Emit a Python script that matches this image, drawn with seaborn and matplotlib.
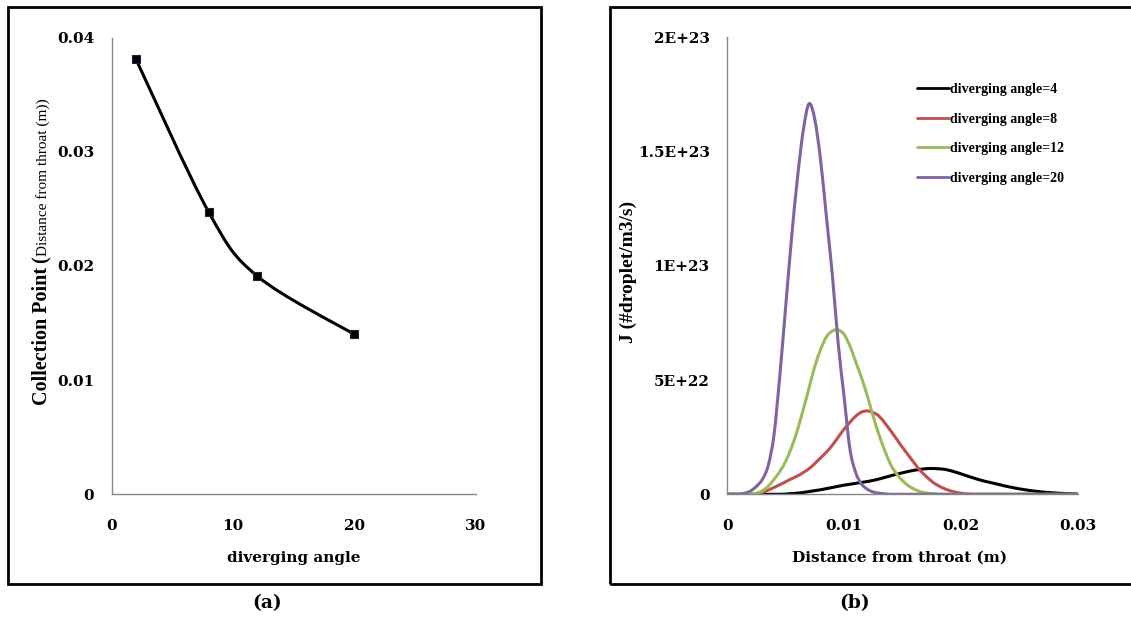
import numpy as np
import pandas as pd
import matplotlib
matplotlib.use("Agg")
import matplotlib.pyplot as plt
from matplotlib.path import Path
from matplotlib.patches import PathPatch, Rectangle
from matplotlib.lines import Line2D
import seaborn as sns

# ---------------- data ----------------
# panel (a)
angle = [2, 8, 12, 20]
collection_point = [0.0381, 0.0247, 0.0191, 0.0140]
a_xticks = [0, 10, 20, 30]
a_yticks = [0, 0.01, 0.02, 0.03, 0.04]
a_yticklabels = ["0", "0.01", "0.02", "0.03", "0.04"]

# panel (b): nucleation rate J in units of 1E22, sampled every 0.0005 m
distance = np.round(np.arange(0, 0.03001, 0.0005), 4)
J_angle4 = [0, 0, 0, 0, 0, 0, 0, 0, 0, 0,
            0.01, 0.03, 0.05, 0.08, 0.12, 0.16, 0.2, 0.25, 0.3, 0.35,
            0.4, 0.44, 0.48, 0.52, 0.56, 0.61, 0.67, 0.74, 0.81, 0.88,
            0.94, 1.0, 1.05, 1.09, 1.12, 1.13, 1.12, 1.1, 1.05, 0.98,
            0.9, 0.81, 0.73, 0.65, 0.58, 0.52, 0.46, 0.4, 0.34, 0.29,
            0.24, 0.2, 0.16, 0.13, 0.1, 0.08, 0.06, 0.045, 0.03, 0.02,
            0.01]
J_angle8 = [0, 0, 0, 0, 0, 0.02, 0.08, 0.18, 0.3, 0.42,
            0.55, 0.68, 0.8, 0.95, 1.12, 1.35, 1.6, 1.85, 2.15, 2.5,
            2.85, 3.15, 3.42, 3.6, 3.65, 3.58, 3.42, 3.12, 2.78, 2.42,
            2.06, 1.72, 1.38, 1.06, 0.8, 0.57, 0.4, 0.27, 0.17, 0.1,
            0.05, 0.02, 0, 0, 0, 0, 0, 0, 0, 0,
            0, 0, 0, 0, 0, 0, 0, 0, 0, 0,
            0]
J_angle12 = [0, 0, 0, 0, 0, 0.05, 0.15, 0.35, 0.65, 1.0,
             1.45, 2.05, 2.8, 3.7, 4.65, 5.6, 6.35, 6.9, 7.15, 7.2,
             7.0, 6.5, 5.8, 5.1, 4.3, 3.4, 2.6, 1.9, 1.3, 0.9,
             0.6, 0.38, 0.23, 0.12, 0.06, 0.03, 0.01, 0, 0, 0,
             0, 0, 0, 0, 0, 0, 0, 0, 0, 0,
             0, 0, 0, 0, 0, 0, 0, 0, 0, 0,
             0]
J_angle20 = [0, 0, 0, 0.05, 0.15, 0.35, 0.65, 1.25, 2.6, 5.2,
             8.2, 11.2, 13.8, 15.9, 17.1, 16.4, 14.6, 12.1, 9.6, 6.6,
             4.3, 2.0, 0.95, 0.45, 0.22, 0.1, 0.05, 0.02, 0, 0,
             0, 0, 0, 0, 0, 0, 0, 0, 0, 0,
             0, 0, 0, 0, 0, 0, 0, 0, 0, 0,
             0, 0, 0, 0, 0, 0, 0, 0, 0, 0,
             0]
series_labels = ["diverging angle=4", "diverging angle=8",
                 "diverging angle=12", "diverging angle=20"]
series_colors = ["#000000", "#C0504D", "#9BBB59", "#8064A2"]
b_xticks = [0, 0.01, 0.02, 0.03]
b_xticklabels = ["0", "0.01", "0.02", "0.03"]
b_yticks = [0, 5e22, 1e23, 1.5e23, 2e23]
b_yticklabels = ["0", "5E+22", "1E+23", "1.5E+23", "2E+23"]

# ---------------- style ----------------
sns.set_style("white")
plt.rcParams["font.family"] = ["DejaVu Serif"]
plt.rcParams["text.color"] = "black"
plt.rcParams["axes.labelcolor"] = "black"
W, H = 1131, 626
fig = plt.figure(figsize=(W / 100, H / 100), dpi=100)
fig.patch.set_facecolor("white")

AX_GRAY = "#868686"
tick_font = dict(family="DejaVu Serif", weight="bold", size=11, color="black")


def style_axes(ax):
    for s in ["top", "right"]:
        ax.spines[s].set_visible(False)
    for s in ["left", "bottom"]:
        ax.spines[s].set_color(AX_GRAY)
        ax.spines[s].set_linewidth(1.0)
    ax.tick_params(axis="both", direction="out", length=3.6, width=1.0,
                   color=AX_GRAY, labelcolor="black")
    ax.tick_params(axis="y", pad=9)
    ax.tick_params(axis="x", pad=14)
    ax.set_xlabel("")
    ax.set_ylabel("")


def smooth_path(xs, ys):
    """Excel-like smoothed line: cubic Bezier through every data point."""
    pts = np.column_stack([xs, ys]).astype(float)
    n = len(pts)
    verts = [tuple(pts[0])]
    codes = [Path.MOVETO]
    for i in range(n - 1):
        p0 = pts[max(i - 1, 0)]
        p1 = pts[i]
        p2 = pts[i + 1]
        p3 = pts[min(i + 2, n - 1)]
        c1 = p1 + (p2 - p0) / 6.0
        c2 = p2 - (p3 - p1) / 6.0
        verts += [tuple(c1), tuple(c2), tuple(p2)]
        codes += [Path.CURVE4] * 3
    return Path(verts, codes)


ax_bottom = (H - 494.3) / H
ax_height = (494.3 - 37.5) / H
ax1 = fig.add_axes([111.7 / W, ax_bottom, (475.7 - 111.7) / W, ax_height])
ax2 = fig.add_axes([727.3 / W, ax_bottom, (1077.5 - 727.3) / W, ax_height])

# ---------------- panel (a) ----------------
ax1.add_patch(PathPatch(smooth_path(angle, collection_point), fill=False, lw=2.2,
                        edgecolor="black", transform=ax1.transData, zorder=2))
sns.scatterplot(x=angle, y=collection_point, marker="s", s=38,
                color="black", edgecolor="#1c2540", linewidth=0.8,
                ax=ax1, zorder=3, legend=False)
ax1.set_xlim(0, 30)
ax1.set_ylim(0, 0.04)
ax1.set_xticks(a_xticks)
ax1.set_xticklabels([str(v) for v in a_xticks], **tick_font)
ax1.set_yticks(a_yticks)
ax1.set_yticklabels(a_yticklabels, **tick_font)
style_axes(ax1)

# ---------------- panel (b) ----------------
frames = []
for lab, vals in zip(series_labels, [J_angle4, J_angle8, J_angle12, J_angle20]):
    frames.append(pd.DataFrame({"distance": distance,
                                "J": np.array(vals) * 1e22,
                                "series": lab}))
df = pd.concat(frames, ignore_index=True)
# seaborn sets up the axes/scales; the visible strokes are smoothed like Excel
sns.lineplot(data=df, x="distance", y="J", hue="series",
             hue_order=series_labels,
             palette=dict(zip(series_labels, series_colors)),
             lw=0, alpha=0, ax=ax2, legend=False, estimator=None, sort=False)
for lab, col in zip(series_labels, series_colors):
    sub = df[df["series"] == lab]
    ax2.add_patch(PathPatch(smooth_path(sub["distance"].values, sub["J"].values),
                            fill=False, lw=2.2, edgecolor=col,
                            transform=ax2.transData, zorder=2,
                            capstyle="round", joinstyle="round"))
ax2.set_xlim(0, 0.03)
ax2.set_ylim(0, 2e23)
ax2.set_xticks(b_xticks)
ax2.set_xticklabels(b_xticklabels, **tick_font)
ax2.set_yticks(b_yticks)
ax2.set_yticklabels(b_yticklabels, **tick_font)
style_axes(ax2)

# legend
handles = [Line2D([], [], color=c, lw=2.0) for c in series_colors]
fig.legend(handles, series_labels, loc="upper left",
           bbox_to_anchor=(917.0 / W, 1 - 83.0 / H),
           frameon=False, borderpad=0, borderaxespad=0,
           handlelength=2.3, handletextpad=0.05, labelspacing=1.2,
           prop=dict(family="Liberation Serif", weight="bold", size=10))

# ---------------- labels ----------------
lab_font = dict(family="DejaVu Serif", weight="bold", size=11, color="black")
fig.text(294 / W, 1 - 558 / H, "diverging angle", ha="center", va="center", **lab_font)
fig.text(900 / W, 1 - 558 / H, "Distance from throat (m)", ha="center", va="center", **lab_font)

fig.canvas.draw()
renderer = fig.canvas.get_renderer()


def vlabel(x_px, y0_px, parts):
    y = y0_px
    for txt, kw, gap in parts:
        t = fig.text(x_px / W, y / H, txt, rotation=90, rotation_mode="anchor",
                     ha="left", va="baseline", color="black", **kw)
        bb = t.get_window_extent(renderer)
        y += bb.height + gap


vlabel(47, H - 405, [
    ("Collection Point", dict(family="Liberation Serif", weight="bold", size=14.5), 4),
    ("(", dict(family="Liberation Serif", weight="bold", size=14.5), 0),
    ("Distance from throat (m))", dict(family="Liberation Serif", size=11), 0),
])
fig.text(633 / W, 1 - 343 / H, "J (#droplet/m3/s)", rotation=90,
         rotation_mode="anchor", ha="left", va="baseline", color="black",
         family="Liberation Serif", weight="bold", size=14)

# captions
cap_font = dict(family="DejaVu Serif", weight="bold", size=13.5, color="black")
fig.text(267 / W, 1 - 603 / H, "(a)", ha="center", va="center", **cap_font)
fig.text(855 / W, 1 - 603 / H, "(b)", ha="center", va="center", **cap_font)

# panel frames
fig.add_artist(Rectangle((8 / W, 1 - 584 / H), (541 - 8) / W, (584 - 6.5) / H,
                         transform=fig.transFigure, fill=False, lw=2.0,
                         edgecolor="black"))
fig.add_artist(Rectangle((609.5 / W, 1 - 584 / H), (1140 - 609.5) / W, (584 - 6.5) / H,
                         transform=fig.transFigure, fill=False, lw=2.0,
                         edgecolor="black", clip_on=False))

fig.savefig("out.png", dpi=100)
